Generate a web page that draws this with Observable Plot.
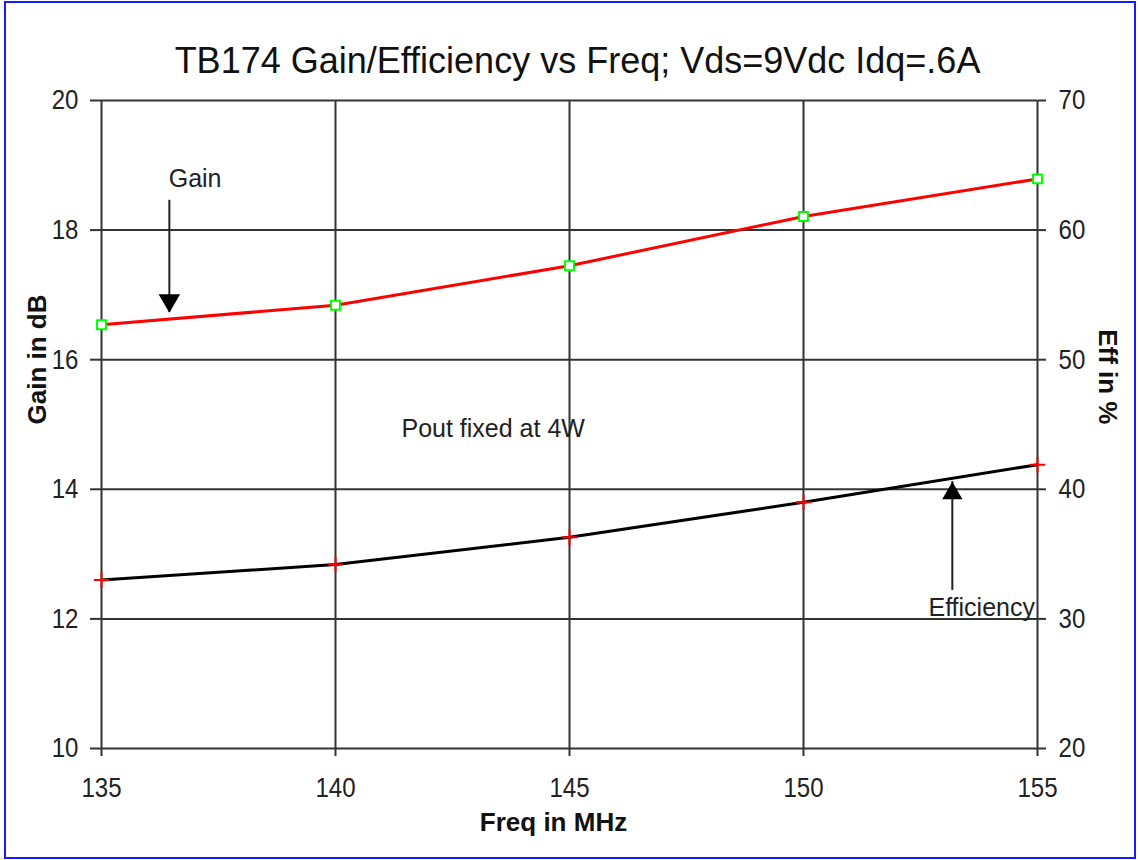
<!DOCTYPE html>
<html><head><meta charset="utf-8">
<script src="https://cdn.jsdelivr.net/npm/d3@7"></script>
<script src="https://cdn.jsdelivr.net/npm/@observablehq/plot@0.6"></script>
<style>
html,body{margin:0;padding:0;background:#fff;}
#wrap{position:relative;width:1138px;height:860px;overflow:hidden;background:#fff;}
#border{position:absolute;left:4px;top:1px;right:2px;bottom:1px;border:2px solid #1a1aff;pointer-events:none;}
svg{display:block;}
</style></head><body><div id="wrap"><div id="border"></div></div>
<script>
// ---- data ----
const freq = [135, 140, 145, 150, 155];
const gainDb = [16.54, 16.84, 17.45, 18.21, 18.79];
const effPct = [33.0, 34.2, 36.3, 39.0, 41.9];
const xTicks = [135, 140, 145, 150, 155];
const gainTicks = [10, 12, 14, 16, 18, 20];
const effTicks = [20, 30, 40, 50, 60, 70];
const titleText = "TB174 Gain/Efficiency vs Freq; Vds=9Vdc Idq=.6A";
const xLabel = "Freq in MHz";
const yLeftLabel = "Gain in dB";
const yRightLabel = "Eff in %";
// annotations (x in MHz, y in gain-axis dB)
const noteText = ["Gain", "Pout fixed at 4W", "Efficiency"];
const noteX = [137.0, 141.41, 152.67];
const noteY = [18.67, 14.80, 12.05];
const noteAnchor = ["middle", "start", "start"];
const arrowX = [136.45, 153.18];
const arrowFrom = [18.46, 12.44];
const arrowTo = [16.73, 14.12];

// efficiency (20..70 %) mapped onto gain axis (10..20 dB)
const effToGain = e => 10 + (e - 20) / 5;
const gainToEff = g => 20 + (g - 10) * 5;

const gainData = freq.map((f, i) => ({f, v: gainDb[i]}));
const effData = freq.map((f, i) => ({f, v: effToGain(effPct[i])}));
const notes = noteText.map((t, i) => ({t, x: noteX[i], y: noteY[i], a: noteAnchor[i]}));
const arrows = arrowX.map((x, i) => ({x, y1: arrowFrom[i], y2: arrowTo[i], down: arrowTo[i] < arrowFrom[i]}));

const sans = "'Liberation Sans', Arial, sans-serif";
const gridColor = "#333";

const chart = Plot.plot({
  width: 1138,
  height: 860,
  marginLeft: 101,
  marginRight: 101,
  marginTop: 100,
  marginBottom: 112,
  style: {fontFamily: sans, fontSize: "28px", color: "#222", background: "transparent"},
  x: {domain: [135, 155], label: null},
  y: {domain: [10, 20], label: null},
  marks: [
    Plot.gridX(xTicks, {stroke: gridColor, strokeOpacity: 1, strokeWidth: 2}),
    Plot.gridY(gainTicks, {stroke: gridColor, strokeOpacity: 1, strokeWidth: 2}),
    Plot.axisX(xTicks, {tickSize: 8, tickPadding: 21, stroke: gridColor, strokeWidth: 2, fontSize: 28, fontFamily: sans, label: null, tickFormat: d => String(d)}),
    Plot.axisY(gainTicks, {anchor: "left", tickSize: 11, tickPadding: 12, stroke: gridColor, strokeWidth: 2, fontSize: 28, fontFamily: sans, label: null, tickFormat: d => String(d)}),
    Plot.axisY(effTicks.map(effToGain), {anchor: "right", tickSize: 8, tickPadding: 13, stroke: gridColor, strokeWidth: 2, fontSize: 28, fontFamily: sans, label: null, tickFormat: d => String(Math.round(gainToEff(d)))}),
    // series
    Plot.line(gainData, {x: "f", y: "v", stroke: "#ff0000", strokeWidth: 3}),
    Plot.line(effData, {x: "f", y: "v", stroke: "#000", strokeWidth: 3}),
    Plot.dot(gainData, {x: "f", y: "v", symbol: "square", r: 5, fill: "#fff", stroke: "#00ff00", strokeWidth: 2}),
    Plot.dot(effData, {x: "f", y: "v", symbol: "plus", r: 5, stroke: "#ff0000", strokeWidth: 2}),
    // arrows
    Plot.ruleX(arrows, {x: "x", y1: "y1", y2: "y2", stroke: "#222", strokeWidth: 2}),
    Plot.dot(arrows.filter(a => a.down), {x: "x", y: "y2", symbol: "triangle", r: 8, rotate: 180, fill: "#000", stroke: "none", dy: -12}),
    Plot.dot(arrows.filter(a => !a.down), {x: "x", y: "y2", symbol: "triangle", r: 7.5, fill: "#000", stroke: "none", dy: 12}),
    // annotations
    Plot.text(notes.filter(n => n.a === "middle"), {x: "x", y: "y", text: "t", textAnchor: "middle", lineAnchor: "bottom", fontFamily: sans, fontSize: 25, fill: "#222"}),
    Plot.text(notes.filter(n => n.a === "start"), {x: "x", y: "y", text: "t", textAnchor: "start", lineAnchor: "bottom", fontFamily: sans, fontSize: 25, fill: "#222"}),
    // titles
    Plot.text([titleText], {frameAnchor: "top", text: d => d, dx: 8, dy: -28, lineAnchor: "bottom", fontFamily: sans, fontSize: 36, fill: "#111"}),
    Plot.text([xLabel], {frameAnchor: "bottom", text: d => d, dx: -16, dy: 82, lineAnchor: "bottom", fontFamily: sans, fontWeight: "bold", fontSize: 26, fill: "#111"}),
    Plot.text([yLeftLabel], {frameAnchor: "left", text: d => d, dx: -56, rotate: -90, lineAnchor: "bottom", fontFamily: sans, fontWeight: "bold", fontSize: 26, fill: "#111"}),
    Plot.text([yRightLabel], {frameAnchor: "right", text: d => d, dx: 61, rotate: 90, lineAnchor: "bottom", fontFamily: sans, fontWeight: "bold", fontSize: 26, fill: "#111"})
  ]
});
document.getElementById("wrap").prepend(chart);

// condense tick labels horizontally (the reference uses a narrow face)
function condense(sel, s) {
  chart.querySelectorAll(sel).forEach(t => {
    const pm = t.parentNode.getCTM(), m = t.getCTM();
    if (!pm || !m) return;
    const L = pm.inverse().multiply(m);
    const ax = parseFloat(t.getAttribute("x")) || 0, ay = parseFloat(t.getAttribute("y")) || 0;
    t.setAttribute("transform",
      `matrix(${L.a},${L.b},${L.c},${L.d},${L.e},${L.f}) translate(${ax},${ay}) scale(${s},1) translate(${-ax},${-ay})`);
  });
}
condense('g[aria-label="x-axis tick label"] text, g[aria-label="y-axis tick label"] text', 0.86);
</script>
</body></html>
